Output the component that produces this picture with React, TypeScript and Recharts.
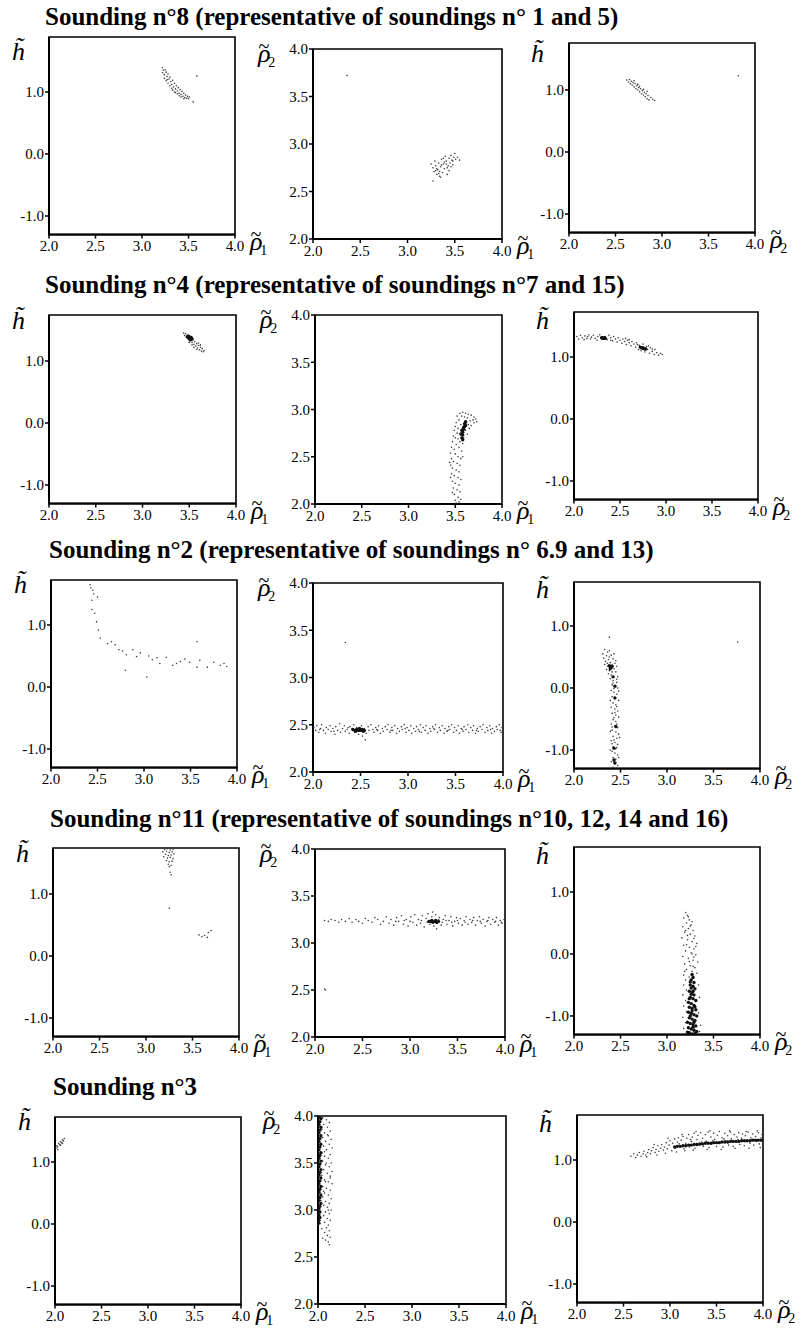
import { ReferenceArea, Scatter, ScatterChart, XAxis, YAxis } from "recharts";

type Pt = [number, number];

const rhoTicks = [2, 2.5, 3, 3.5, 4];
const hTicks = [-1, 0, 1];

const soundingTitles = [
  "Sounding n°8 (representative of soundings n° 1 and 5)",
  "Sounding n°4 (representative of soundings n°7 and 15)",
  "Sounding n°2 (representative of soundings n° 6.9 and 13)",
  "Sounding n°11 (representative of soundings n°10, 12, 14 and 16)",
  "Sounding n°3",
];

// ---- sounding 8 ----
const s8HRho1: Pt[] = [
  [3.22, 1.39], [3.23, 1.35], [3.22, 1.31], [3.24, 1.28], [3.25, 1.36], [3.26, 1.32], [3.24, 1.22], [3.27, 1.25],
  [3.28, 1.29], [3.26, 1.18], [3.29, 1.21], [3.30, 1.24], [3.28, 1.14], [3.31, 1.17], [3.32, 1.12], [3.33, 1.19],
  [3.30, 1.10], [3.34, 1.08], [3.35, 1.14], [3.36, 1.05], [3.33, 1.03], [3.37, 1.10], [3.38, 1.02], [3.39, 1.07],
  [3.36, 0.99], [3.40, 0.98], [3.41, 1.04], [3.42, 0.96], [3.43, 1.01], [3.40, 0.94], [3.44, 0.93], [3.45, 0.98],
  [3.46, 0.91], [3.47, 0.95], [3.48, 0.90], [3.49, 0.93], [3.50, 0.89], [3.51, 0.92], [3.45, 0.89], [3.38, 0.97],
  [3.32, 1.06], [3.27, 1.20], [3.35, 1.00], [3.42, 0.92], [3.59, 1.26], [3.55, 0.84],
];
const s8Rho2Rho1: Pt[] = [
  [3.25, 2.79], [3.27, 2.75], [3.28, 2.71], [3.29, 2.82], [3.30, 2.77], [3.31, 2.68], [3.27, 2.61], [3.32, 2.73],
  [3.33, 2.80], [3.34, 2.66], [3.35, 2.76], [3.36, 2.84], [3.34, 2.71], [3.37, 2.70], [3.38, 2.79], [3.39, 2.74],
  [3.40, 2.87], [3.41, 2.82], [3.42, 2.68], [3.43, 2.77], [3.44, 2.85], [3.45, 2.80], [3.46, 2.88], [3.47, 2.83],
  [3.48, 2.78], [3.49, 2.86], [3.50, 2.90], [3.51, 2.84], [3.53, 2.86], [3.55, 2.83], [3.36, 2.78], [3.39, 2.81],
  [3.42, 2.75], [3.44, 2.72], [3.31, 2.74], [3.33, 2.69], [3.46, 2.76], [3.38, 2.85], [3.30, 2.72], [3.41, 2.79],
  [3.35, 2.65], [3.48, 2.82], [2.36, 3.72],
];
const s8HRho2: Pt[] = [
  [2.62, 1.16], [2.64, 1.13], [2.65, 1.17], [2.66, 1.10], [2.67, 1.14], [2.68, 1.08], [2.69, 1.12], [2.70, 1.05],
  [2.71, 1.10], [2.72, 1.02], [2.73, 1.07], [2.74, 1.00], [2.75, 1.04], [2.76, 0.97], [2.77, 1.02], [2.78, 0.94],
  [2.79, 0.99], [2.80, 0.92], [2.81, 0.96], [2.82, 0.89], [2.83, 0.94], [2.84, 0.86], [2.85, 0.91], [2.86, 0.84],
  [2.88, 0.88], [2.90, 0.85], [2.92, 0.83], [2.70, 1.15], [2.74, 1.09], [2.80, 1.01], [2.84, 0.98], [2.76, 1.06],
  [3.82, 1.23],
];

// ---- sounding 4 ----
const s4HRho1: Pt[] = [
  [3.44, 1.45], [3.45, 1.41], [3.46, 1.44], [3.47, 1.38], [3.48, 1.42], [3.49, 1.35], [3.50, 1.40], [3.51, 1.33],
  [3.52, 1.37], [3.53, 1.30], [3.54, 1.34], [3.55, 1.27], [3.56, 1.31], [3.57, 1.24], [3.58, 1.28], [3.59, 1.21],
  [3.60, 1.25], [3.61, 1.18], [3.62, 1.22], [3.63, 1.16], [3.64, 1.20], [3.65, 1.15], [3.66, 1.17], [3.58, 1.19],
  [3.55, 1.22], [3.53, 1.26], [3.60, 1.29], [3.62, 1.26], [3.50, 1.30],
];
const s4HRho1Core: Pt[] = [
  [3.48, 1.39], [3.49, 1.38], [3.50, 1.37], [3.51, 1.36], [3.52, 1.35], [3.50, 1.39], [3.52, 1.38], [3.53, 1.36],
  [3.49, 1.40], [3.51, 1.34],
];
const s4Rho2Rho1: Pt[] = [
  [3.52, 2.93], [3.55, 2.96], [3.58, 2.97], [3.61, 2.96], [3.64, 2.95], [3.67, 2.94], [3.70, 2.92], [3.72, 2.90],
  [3.73, 2.87], [3.70, 2.86], [3.66, 2.88], [3.63, 2.91], [3.60, 2.92], [3.54, 2.89], [3.51, 2.86], [3.50, 2.82],
  [3.53, 2.80], [3.67, 2.83], [3.64, 2.84], [3.69, 2.89], [3.62, 2.86], [3.57, 2.93], [3.65, 2.80], [3.56, 2.84],
  [3.49, 2.78], [3.52, 2.75], [3.61, 2.78], [3.63, 2.74], [3.48, 2.72], [3.50, 2.70], [3.53, 2.69], [3.55, 2.66],
  [3.47, 2.66], [3.51, 2.63], [3.58, 2.64], [3.46, 2.60], [3.49, 2.58], [3.54, 2.60], [3.57, 2.56], [3.45, 2.54],
  [3.50, 2.53], [3.53, 2.50], [3.56, 2.48], [3.46, 2.48], [3.48, 2.45], [3.52, 2.43], [3.55, 2.41], [3.45, 2.41],
  [3.47, 2.38], [3.51, 2.36], [3.54, 2.34], [3.46, 2.32], [3.49, 2.30], [3.53, 2.28], [3.56, 2.26], [3.47, 2.24],
  [3.50, 2.22], [3.54, 2.20], [3.48, 2.17], [3.52, 2.15], [3.55, 2.13], [3.49, 2.10], [3.53, 2.07], [3.50, 2.04],
  [3.54, 2.02], [3.51, 2.01], [3.56, 2.05], [3.47, 2.12], [3.45, 2.28], [3.58, 2.50], [3.59, 2.70], [3.44, 2.44],
];
const s4Rho2Rho1Core: Pt[] = [
  [3.57, 2.70], [3.58, 2.73], [3.58, 2.76], [3.59, 2.79], [3.60, 2.82], [3.60, 2.85], [3.61, 2.87], [3.59, 2.81],
  [3.57, 2.78], [3.56, 2.74], [3.61, 2.83], [3.58, 2.68],
];
const s4HRho2: Pt[] = [
  [2.03, 1.33], [2.05, 1.29], [2.07, 1.35], [2.09, 1.31], [2.11, 1.28], [2.12, 1.34], [2.14, 1.30], [2.16, 1.36],
  [2.18, 1.29], [2.19, 1.32], [2.21, 1.35], [2.23, 1.30], [2.25, 1.27], [2.26, 1.33], [2.28, 1.36], [2.30, 1.29],
  [2.34, 1.33], [2.36, 1.28], [2.38, 1.35], [2.40, 1.31], [2.42, 1.26], [2.43, 1.33], [2.45, 1.29], [2.47, 1.24],
  [2.48, 1.31], [2.50, 1.27], [2.52, 1.22], [2.53, 1.29], [2.55, 1.25], [2.57, 1.20], [2.58, 1.27], [2.60, 1.23],
  [2.62, 1.18], [2.63, 1.25], [2.65, 1.21], [2.67, 1.16], [2.68, 1.23], [2.70, 1.12], [2.71, 1.19], [2.73, 1.10],
  [2.75, 1.21], [2.77, 1.08], [2.79, 1.17], [2.80, 1.12], [2.82, 1.06], [2.83, 1.15], [2.85, 1.09], [2.87, 1.04],
  [2.88, 1.12], [2.90, 1.07], [2.92, 1.03], [2.94, 1.06], [2.96, 1.04], [2.85, 1.13], [2.60, 1.28], [2.40, 1.27],
  [2.15, 1.33], [2.69, 1.20], [2.81, 1.18], [2.56, 1.30],
];
const s4HRho2Core: Pt[] = [
  [2.30, 1.31], [2.31, 1.31], [2.32, 1.30], [2.33, 1.31], [2.34, 1.30], [2.72, 1.16], [2.73, 1.15], [2.74, 1.15],
  [2.75, 1.14], [2.76, 1.14], [2.77, 1.13], [2.78, 1.13],
];

// ---- sounding 2 ----
const s2HRho1: Pt[] = [
  [2.42, 1.65], [2.45, 1.56], [2.44, 1.40], [2.50, 1.45], [2.44, 1.25], [2.47, 1.19], [2.49, 1.05], [2.51, 0.92],
  [2.53, 0.79], [2.65, 0.73], [2.69, 0.68], [2.73, 0.60], [2.81, 0.52], [2.80, 0.27], [2.88, 0.60], [2.92, 0.49],
  [3.03, 0.16], [3.05, 0.50], [3.14, 0.47], [3.17, 0.38], [3.24, 0.48], [3.31, 0.35], [3.39, 0.41], [3.49, 0.40],
  [3.57, 0.73], [3.57, 0.32], [3.60, 0.43], [3.68, 0.32], [3.75, 0.40], [3.82, 0.35], [3.89, 0.33], [2.43, 1.60],
  [2.46, 1.50], [2.61, 0.70], [2.77, 0.58], [2.96, 0.55], [3.09, 0.44], [3.35, 0.38], [3.44, 0.45], [3.86, 0.38],
];
const s2Rho2Rho1: Pt[] = [
  [2.01, 2.47], [2.03, 2.44], [2.04, 2.49], [2.06, 2.42], [2.08, 2.46], [2.09, 2.50], [2.11, 2.44], [2.13, 2.41],
  [2.14, 2.47], [2.16, 2.45], [2.18, 2.49], [2.19, 2.43], [2.21, 2.46], [2.23, 2.40], [2.24, 2.48], [2.26, 2.44],
  [2.28, 2.51], [2.29, 2.42], [2.31, 2.46], [2.33, 2.49], [2.34, 2.43], [2.36, 2.45], [2.38, 2.41], [2.39, 2.48],
  [2.41, 2.46], [2.43, 2.50], [2.44, 2.42], [2.46, 2.47], [2.48, 2.40], [2.49, 2.45], [2.51, 2.49], [2.53, 2.43],
  [2.54, 2.46], [2.56, 2.41], [2.58, 2.48], [2.59, 2.44], [2.61, 2.50], [2.63, 2.45], [2.64, 2.42], [2.66, 2.47],
  [2.68, 2.44], [2.69, 2.49], [2.71, 2.41], [2.73, 2.46], [2.74, 2.43], [2.76, 2.48], [2.78, 2.45], [2.79, 2.50],
  [2.81, 2.42], [2.83, 2.47], [2.84, 2.44], [2.86, 2.49], [2.88, 2.41], [2.89, 2.46], [2.91, 2.43], [2.93, 2.48],
  [2.94, 2.45], [2.96, 2.50], [2.98, 2.42], [2.99, 2.47], [3.01, 2.44], [3.03, 2.49], [3.04, 2.41], [3.06, 2.46],
  [3.08, 2.43], [3.09, 2.48], [3.11, 2.45], [3.13, 2.50], [3.14, 2.42], [3.16, 2.47], [3.18, 2.44], [3.19, 2.49],
  [3.21, 2.41], [3.23, 2.46], [3.24, 2.43], [3.26, 2.48], [3.28, 2.45], [3.29, 2.50], [3.31, 2.42], [3.33, 2.47],
  [3.34, 2.44], [3.36, 2.49], [3.38, 2.41], [3.39, 2.46], [3.41, 2.43], [3.43, 2.48], [3.44, 2.45], [3.46, 2.50],
  [3.48, 2.42], [3.49, 2.47], [3.51, 2.44], [3.53, 2.49], [3.54, 2.41], [3.56, 2.46], [3.58, 2.43], [3.59, 2.48],
  [3.61, 2.45], [3.63, 2.50], [3.64, 2.42], [3.66, 2.47], [3.68, 2.44], [3.69, 2.49], [3.71, 2.41], [3.73, 2.46],
  [3.74, 2.43], [3.76, 2.48], [3.78, 2.45], [3.79, 2.50], [3.81, 2.42], [3.83, 2.47], [3.84, 2.44], [3.86, 2.49],
  [3.88, 2.41], [3.89, 2.46], [3.91, 2.43], [3.93, 2.48], [3.94, 2.45], [3.96, 2.50], [3.98, 2.42], [3.99, 2.47],
  [2.07, 2.45], [2.22, 2.43], [2.37, 2.47], [2.52, 2.38], [2.55, 2.34], [2.67, 2.45], [2.82, 2.44], [2.97, 2.46],
  [3.12, 2.43], [3.27, 2.46], [3.42, 2.44], [3.57, 2.45], [3.72, 2.44], [3.87, 2.45], [3.97, 2.44], [2.34, 3.37],
];
const s2Rho2Rho1Core: Pt[] = [
  [2.42, 2.45], [2.44, 2.44], [2.46, 2.45], [2.48, 2.44], [2.50, 2.44], [2.52, 2.45], [2.54, 2.44], [2.45, 2.43],
  [2.49, 2.46], [2.53, 2.43],
];
const s2HRho2: Pt[] = [
  [2.33, 0.62], [2.36, 0.58], [2.31, 0.55], [2.35, 0.52], [2.38, 0.60], [2.32, 0.48], [2.37, 0.46], [2.40, 0.53],
  [2.34, 0.43], [2.39, 0.41], [2.42, 0.47], [2.33, 0.38], [2.36, 0.35], [2.41, 0.37], [2.44, 0.40], [2.35, 0.30],
  [2.38, 0.28], [2.43, 0.31], [2.46, 0.35], [2.37, 0.23], [2.40, 0.21], [2.45, 0.26], [2.47, 0.18], [2.39, 0.15],
  [2.42, 0.12], [2.46, 0.09], [2.41, 0.05], [2.44, 0.02], [2.47, 0.00], [2.40, -0.04], [2.43, -0.07], [2.46, -0.10],
  [2.41, -0.14], [2.44, -0.17], [2.48, -0.20], [2.42, -0.24], [2.45, -0.27], [2.40, -0.31], [2.44, -0.34], [2.47, -0.37],
  [2.41, -0.41], [2.45, -0.44], [2.48, -0.47], [2.42, -0.51], [2.45, -0.54], [2.40, -0.58], [2.44, -0.61], [2.47, -0.64],
  [2.41, -0.68], [2.45, -0.71], [2.48, -0.74], [2.42, -0.78], [2.46, -0.81], [2.40, -0.85], [2.44, -0.88], [2.47, -0.91],
  [2.42, -0.95], [2.45, -0.98], [2.41, -1.02], [2.44, -1.05], [2.47, -1.08], [2.42, -1.12], [2.45, -1.15], [2.40, -1.19],
  [2.44, -1.22], [2.47, -1.25], [2.42, -1.28], [2.43, 0.55], [2.45, 0.44], [2.38, 0.50], [2.41, 0.26], [2.36, 0.40],
  [2.46, 0.14], [2.43, -0.01], [2.39, -0.20], [2.46, -0.30], [2.43, -0.48], [2.39, -0.70], [2.46, -0.58], [2.43, -0.84],
  [2.39, -1.00], [2.46, -0.96], [2.43, -1.18], [2.46, -1.29], [2.41, -0.90], [2.48, -0.05], [2.44, -0.40], [2.42, 0.08],
  [2.49, -0.80], [2.48, -1.12], [2.41, -0.63], [2.38, 0.82], [3.76, 0.74],
];
const s2HRho2Core: Pt[] = [
  [2.38, 0.36], [2.39, 0.34], [2.40, 0.33], [2.41, 0.35], [2.39, 0.31], [2.44, -0.16], [2.45, -0.62], [2.43, -0.97],
  [2.43, -1.16], [2.44, -1.21], [2.42, 0.18], [2.44, 0.03],
];

// ---- sounding 11 ----
const s11HRho1: Pt[] = [
  [3.20, 1.72], [3.23, 1.73], [3.26, 1.71], [3.29, 1.72], [3.18, 1.68], [3.22, 1.69], [3.25, 1.67], [3.28, 1.68],
  [3.30, 1.65], [3.21, 1.64], [3.24, 1.62], [3.27, 1.63], [3.19, 1.60], [3.23, 1.58], [3.26, 1.59], [3.29, 1.57],
  [3.22, 1.54], [3.25, 1.52], [3.28, 1.53], [3.24, 1.48], [3.27, 1.46], [3.25, 1.44], [3.26, 1.35], [3.27, 1.31],
  [3.25, 0.77], [3.57, 0.34], [3.60, 0.31], [3.63, 0.33], [3.67, 0.38], [3.70, 0.41], [3.66, 0.30],
];
const s11Rho2Rho1: Pt[] = [
  [2.10, 3.24], [2.14, 3.23], [2.17, 3.25], [2.21, 3.24], [2.25, 3.22], [2.28, 3.25], [2.32, 3.23], [2.36, 3.26],
  [2.39, 3.22], [2.43, 3.25], [2.46, 3.23], [2.50, 3.21], [2.53, 3.26], [2.56, 3.24], [2.60, 3.22], [2.63, 3.27],
  [2.66, 3.25], [2.69, 3.20], [2.72, 3.23], [2.75, 3.28], [2.78, 3.21], [2.80, 3.25], [2.83, 3.19], [2.86, 3.27],
  [2.88, 3.23], [2.91, 3.29], [2.93, 3.20], [2.96, 3.25], [2.98, 3.18], [3.01, 3.28], [3.03, 3.22], [3.05, 3.30],
  [3.07, 3.19], [3.09, 3.25], [3.11, 3.21], [3.13, 3.29], [3.15, 3.17], [3.17, 3.26], [3.19, 3.31], [3.21, 3.20],
  [3.23, 3.28], [3.25, 3.18], [3.27, 3.30], [3.29, 3.21], [3.31, 3.27], [3.33, 3.19], [3.35, 3.25], [3.37, 3.29],
  [3.39, 3.20], [3.41, 3.24], [3.43, 3.28], [3.45, 3.18], [3.47, 3.23], [3.49, 3.27], [3.51, 3.21], [3.53, 3.26],
  [3.55, 3.19], [3.57, 3.24], [3.59, 3.28], [3.61, 3.20], [3.63, 3.25], [3.65, 3.22], [3.67, 3.27], [3.69, 3.19],
  [3.71, 3.24], [3.73, 3.28], [3.75, 3.21], [3.77, 3.25], [3.79, 3.18], [3.81, 3.23], [3.83, 3.27], [3.85, 3.20],
  [3.87, 3.25], [3.89, 3.22], [3.91, 3.27], [3.93, 3.19], [3.95, 3.24], [3.97, 3.21], [3.99, 3.25], [3.00, 3.23],
  [3.12, 3.24], [3.18, 3.22], [3.22, 3.24], [3.26, 3.23], [3.30, 3.25], [3.34, 3.22], [3.38, 3.24], [3.44, 3.22],
  [3.50, 3.24], [3.58, 3.22], [3.66, 3.24], [3.74, 3.23], [3.82, 3.24], [3.90, 3.23], [3.96, 3.22], [2.94, 3.24],
  [2.85, 3.23], [3.24, 3.33], [3.28, 3.15], [2.10, 2.51], [2.11, 2.50],
];
const s11Rho2Rho1Core: Pt[] = [
  [3.20, 3.23], [3.22, 3.23], [3.24, 3.22], [3.26, 3.23], [3.28, 3.22], [3.30, 3.23], [3.23, 3.24], [3.27, 3.24],
];
const s11HRho2: Pt[] = [
  [3.20, 0.67], [3.22, 0.62], [3.18, 0.58], [3.24, 0.55], [3.21, 0.50], [3.26, 0.47], [3.17, 0.44], [3.23, 0.41],
  [3.28, 0.38], [3.19, 0.35], [3.25, 0.32], [3.30, 0.29], [3.16, 0.26], [3.22, 0.23], [3.27, 0.20], [3.32, 0.17],
  [3.18, 0.14], [3.24, 0.11], [3.29, 0.08], [3.20, 0.05], [3.26, 0.02], [3.31, -0.01], [3.17, -0.04], [3.23, -0.07],
  [3.28, -0.10], [3.33, -0.13], [3.19, -0.16], [3.25, -0.19], [3.30, -0.22], [3.21, -0.25], [3.27, -0.28], [3.32, -0.31],
  [3.18, -0.34], [3.24, -0.37], [3.20, -0.42], [3.18, -0.50], [3.21, -0.58], [3.17, -0.66], [3.20, -0.75], [3.18, -0.84],
  [3.21, -0.93], [3.17, -1.02], [3.20, -1.11], [3.18, -1.20], [3.21, -1.27], [3.34, -0.50], [3.35, -0.70], [3.34, -0.95],
  [3.36, -1.15], [3.35, -1.25], [3.23, 0.60], [3.27, 0.52], [3.20, 0.38], [3.29, 0.25], [3.21, 0.15], [3.27, 0.00],
  [3.24, -0.12], [3.19, -0.28], [3.29, -0.05], [3.25, 0.45], [3.31, 0.12], [3.22, 0.30], [3.28, -0.20],
];
const s11HRho2Core: Pt[] = [
  [3.27, -0.33], [3.28, -0.38], [3.26, -0.42], [3.29, -0.46], [3.25, -0.50], [3.28, -0.52], [3.30, -0.56], [3.24, -0.60],
  [3.27, -0.62], [3.29, -0.66], [3.25, -0.70], [3.28, -0.72], [3.31, -0.75], [3.23, -0.78], [3.26, -0.80], [3.29, -0.83],
  [3.24, -0.86], [3.27, -0.88], [3.31, -0.90], [3.23, -0.94], [3.26, -0.96], [3.29, -0.98], [3.32, -1.00], [3.24, -1.03],
  [3.27, -1.05], [3.30, -1.07], [3.22, -1.10], [3.25, -1.12], [3.28, -1.14], [3.31, -1.16], [3.23, -1.19], [3.26, -1.21],
  [3.29, -1.23], [3.32, -1.25], [3.24, -1.27], [3.27, -1.29], [3.30, -1.28], [3.22, -1.26], [3.26, -0.65], [3.27, -0.92],
  [3.28, -1.18], [3.25, -0.45], [3.26, -0.55], [3.30, -0.85], [3.25, -1.00], [3.29, -1.10], [3.24, -0.72], [3.28, -0.60],
];

// ---- sounding 3 ----
const s3HRho1: Pt[] = [
  [2.01, 1.22], [2.02, 1.26], [2.03, 1.24], [2.04, 1.30], [2.05, 1.28], [2.06, 1.33], [2.07, 1.31], [2.08, 1.36],
  [2.09, 1.34], [2.10, 1.38], [2.03, 1.20], [2.06, 1.27], [2.08, 1.30],
];
const s3Rho2Rho1: Pt[] = [
  [2.05, 3.98], [2.09, 3.96], [2.12, 3.93], [2.06, 3.91], [2.10, 3.88], [2.04, 3.86], [2.13, 3.84], [2.07, 3.82],
  [2.11, 3.79], [2.05, 3.77], [2.14, 3.75], [2.08, 3.73], [2.12, 3.70], [2.06, 3.68], [2.15, 3.66], [2.09, 3.64],
  [2.04, 3.61], [2.13, 3.59], [2.07, 3.57], [2.11, 3.55], [2.05, 3.52], [2.14, 3.50], [2.08, 3.48], [2.12, 3.46],
  [2.06, 3.43], [2.15, 3.41], [2.10, 3.39], [2.04, 3.37], [2.13, 3.34], [2.07, 3.32], [2.11, 3.30], [2.15, 3.28],
  [2.05, 3.25], [2.09, 3.23], [2.13, 3.21], [2.07, 3.18], [2.11, 3.16], [2.05, 3.14], [2.14, 3.12], [2.08, 3.09],
  [2.12, 3.07], [2.06, 3.05], [2.10, 3.03], [2.14, 3.00], [2.08, 2.98], [2.12, 2.96], [2.06, 2.94], [2.10, 2.91],
  [2.13, 2.89], [2.07, 2.87], [2.11, 2.84], [2.09, 2.81], [2.12, 2.78], [2.07, 2.76], [2.10, 2.73], [2.13, 2.71],
  [2.08, 2.68], [2.11, 2.66], [2.12, 2.63], [2.03, 3.70], [2.03, 3.40], [2.03, 3.10], [2.04, 2.80], [2.05, 2.70],
  [2.09, 3.50], [2.10, 3.80], [2.08, 3.30], [2.11, 3.00], [2.07, 3.62], [2.13, 3.36], [2.06, 3.20],
];
const s3Rho2Rho1Core: Pt[] = [
  [2.01, 3.99], [2.03, 3.97], [2.02, 3.94], [2.01, 3.91], [2.03, 3.88], [2.02, 3.85], [2.01, 3.82], [2.03, 3.79],
  [2.02, 3.76], [2.01, 3.73], [2.03, 3.70], [2.02, 3.67], [2.01, 3.64], [2.03, 3.61], [2.02, 3.58], [2.01, 3.55],
  [2.03, 3.52], [2.02, 3.49], [2.01, 3.46], [2.03, 3.43], [2.02, 3.40], [2.01, 3.37], [2.03, 3.34], [2.02, 3.31],
  [2.01, 3.28], [2.03, 3.25], [2.02, 3.22], [2.01, 3.19], [2.03, 3.16], [2.02, 3.13], [2.01, 3.10], [2.03, 3.07],
  [2.02, 3.04], [2.01, 3.01], [2.02, 2.98], [2.01, 2.95], [2.02, 2.92], [2.01, 2.89], [2.01, 2.86],
];
const s3HRho2: Pt[] = [
  [2.58, 1.06], [2.61, 1.10], [2.63, 1.04], [2.65, 1.08], [2.67, 1.12], [2.69, 1.06], [2.71, 1.10], [2.72, 1.14],
  [2.74, 1.08], [2.76, 1.12], [2.77, 1.17], [2.79, 1.10], [2.80, 1.15], [2.82, 1.20], [2.84, 1.12], [2.85, 1.17],
  [2.87, 1.23], [2.88, 1.14], [2.90, 1.19], [2.91, 1.25], [2.93, 1.16], [2.94, 1.21], [2.96, 1.28], [2.97, 1.18],
  [2.99, 1.24], [3.00, 1.31], [3.02, 1.15], [3.03, 1.27], [3.05, 1.34], [3.06, 1.19], [3.08, 1.29], [3.09, 1.36],
  [3.11, 1.22], [3.12, 1.32], [3.14, 1.38], [3.15, 1.18], [3.17, 1.27], [3.18, 1.35], [3.20, 1.41], [3.21, 1.21],
  [3.23, 1.30], [3.24, 1.37], [3.26, 1.43], [3.27, 1.19], [3.29, 1.33], [3.30, 1.40], [3.32, 1.24], [3.33, 1.44],
  [3.35, 1.35], [3.36, 1.22], [3.38, 1.41], [3.39, 1.30], [3.41, 1.45], [3.42, 1.20], [3.44, 1.37], [3.45, 1.26],
  [3.47, 1.43], [3.48, 1.33], [3.50, 1.22], [3.51, 1.40], [3.53, 1.46], [3.54, 1.29], [3.56, 1.36], [3.57, 1.21],
  [3.59, 1.43], [3.60, 1.31], [3.62, 1.39], [3.63, 1.24], [3.65, 1.45], [3.66, 1.34], [3.68, 1.22], [3.69, 1.41],
  [3.71, 1.29], [3.72, 1.37], [3.74, 1.44], [3.75, 1.25], [3.77, 1.35], [3.78, 1.42], [3.80, 1.23], [3.81, 1.39],
  [3.83, 1.31], [3.84, 1.45], [3.86, 1.27], [3.87, 1.36], [3.89, 1.42], [3.90, 1.24], [3.92, 1.38], [3.93, 1.30],
  [3.95, 1.44], [3.96, 1.26], [3.98, 1.36], [3.99, 1.41], [2.75, 1.05], [2.86, 1.08], [2.95, 1.11], [3.07, 1.13],
  [3.16, 1.15], [3.25, 1.16], [3.40, 1.17], [3.55, 1.17], [3.70, 1.19], [3.85, 1.19], [3.97, 1.20], [3.10, 1.26],
  [3.22, 1.33], [3.34, 1.29], [3.46, 1.31], [3.58, 1.34], [3.73, 1.33], [3.88, 1.33], [2.83, 1.25], [2.98, 1.35],
  [3.13, 1.41], [3.28, 1.46], [3.43, 1.47], [3.64, 1.47], [3.82, 1.46], [3.94, 1.47],
];
const s3HRho2Core: Pt[] = [
  [3.05, 1.21], [3.08, 1.22], [3.11, 1.22], [3.14, 1.23], [3.17, 1.23], [3.20, 1.24], [3.23, 1.24], [3.26, 1.25],
  [3.29, 1.25], [3.32, 1.26], [3.35, 1.26], [3.38, 1.27], [3.41, 1.27], [3.44, 1.27], [3.47, 1.28], [3.50, 1.28],
  [3.53, 1.28], [3.56, 1.29], [3.59, 1.29], [3.62, 1.29], [3.65, 1.30], [3.68, 1.30], [3.71, 1.30], [3.74, 1.30],
  [3.77, 1.31], [3.80, 1.31], [3.83, 1.31], [3.86, 1.31], [3.89, 1.32], [3.92, 1.32], [3.95, 1.32], [3.98, 1.32],
];

// ---- layout ----
const SERIF = '"Liberation Serif", "DejaVu Serif", serif';
const H_UNIT = 62; // px per unit on the h axes

type Box = {
  left: number;
  right: number;
  top: number;
  bottom: number;
  yMin: number;
  yMax: number;
  yTicks: number[];
};

const hBox = (left: number, right: number, top: number, zero: number): Box => ({
  left,
  right,
  top,
  bottom: zero + 1.3 * H_UNIT,
  yMin: -1.3,
  yMax: (zero - top) / H_UNIT,
  yTicks: hTicks,
});
const rBox = (left: number, right: number, top: number, bottom: number): Box => ({
  left,
  right,
  top,
  bottom,
  yMin: 2,
  yMax: 4,
  yTicks: rhoTicks,
});

type Row = {
  title: string;
  titleX: number;
  titleY: number;
  boxes: [Box, Box, Box];
  clouds: [Pt[], Pt[], Pt[]];
  cores: [Pt[] | null, Pt[] | null, Pt[] | null];
};

const rows: Row[] = [
  {
    title: soundingTitles[0],
    titleX: 45,
    titleY: 25,
    boxes: [hBox(49, 235, 37, 154), rBox(313, 502, 49, 239), hBox(569, 755, 43, 152)],
    clouds: [s8HRho1, s8Rho2Rho1, s8HRho2],
    cores: [null, null, null],
  },
  {
    title: soundingTitles[1],
    titleX: 45,
    titleY: 293,
    boxes: [hBox(49, 236, 315, 423), rBox(315, 502, 315, 504), hBox(574, 758, 312, 419)],
    clouds: [s4HRho1, s4Rho2Rho1, s4HRho2],
    cores: [s4HRho1Core, s4Rho2Rho1Core, s4HRho2Core],
  },
  {
    title: soundingTitles[2],
    titleX: 49,
    titleY: 558,
    boxes: [hBox(51, 237, 580, 687), rBox(313, 503, 583, 772), hBox(574, 760, 582, 688)],
    clouds: [s2HRho1, s2Rho2Rho1, s2HRho2],
    cores: [null, s2Rho2Rho1Core, s2HRho2Core],
  },
  {
    title: soundingTitles[3],
    titleX: 50,
    titleY: 827,
    boxes: [hBox(53, 239, 848, 956), rBox(315, 505, 849, 1037), hBox(574, 760, 847, 954)],
    clouds: [s11HRho1, s11Rho2Rho1, s11HRho2],
    cores: [null, s11Rho2Rho1Core, s11HRho2Core],
  },
  {
    title: soundingTitles[4],
    titleX: 53,
    titleY: 1095,
    boxes: [hBox(55, 241, 1117, 1224), rBox(318, 506, 1116, 1304), hBox(577, 763, 1115, 1222)],
    clouds: [s3HRho1, s3Rho2Rho1, s3HRho2],
    cores: [null, s3Rho2Rho1Core, s3HRho2Core],
  },
];

const fmt = (v: number) => v.toFixed(1);
const tickStyle = { fill: "#000", fontSize: 15, fontFamily: SERIF };
const toRows = (pts: Pt[]) => pts.map(([x, y]) => ({ x, y }));

const speck = (p: any) => <circle cx={p.cx} cy={p.cy} r={0.8} fill="#3c3c3c" />;
const blot = (p: any) => <circle cx={p.cx} cy={p.cy} r={1.7} fill="#111" />;

const PAD_L = 44;
const PAD_T = 10;
const PAD_R = 14;
const PAD_B = 26;

function Panel({ box, cloud, core }: { box: Box; cloud: Pt[]; core: Pt[] | null }) {
  const w = box.right - box.left;
  const h = box.bottom - box.top;
  return (
    <div style={{ position: "absolute", left: box.left - PAD_L, top: box.top - PAD_T }}>
      <ScatterChart
        width={w + PAD_L + PAD_R}
        height={h + PAD_T + PAD_B}
        margin={{ top: PAD_T, right: PAD_R, bottom: 0, left: 0 }}
      >
        <XAxis
          type="number"
          dataKey="x"
          domain={[2, 4]}
          ticks={rhoTicks}
          interval={0}
          allowDataOverflow
          height={PAD_B}
          tickSize={4}
          tickMargin={2}
          tickFormatter={fmt}
          tick={tickStyle}
          axisLine={{ stroke: "#000", strokeWidth: 2 }}
          tickLine={{ stroke: "#000", strokeWidth: 1.5 }}
        />
        <YAxis
          type="number"
          dataKey="y"
          domain={[box.yMin, box.yMax]}
          ticks={box.yTicks}
          interval={0}
          allowDataOverflow
          width={PAD_L}
          tickSize={4}
          tickMargin={1}
          tickFormatter={fmt}
          tick={tickStyle}
          axisLine={{ stroke: "#000", strokeWidth: 2 }}
          tickLine={{ stroke: "#000", strokeWidth: 1.5 }}
        />
        <ReferenceArea
          x1={2}
          x2={4}
          y1={box.yMin}
          y2={box.yMax}
          fill="none"
          stroke="#000"
          strokeWidth={1.6}
          ifOverflow="visible"
        />
        <Scatter data={toRows(cloud)} shape={speck} isAnimationActive={false} />
        {core && <Scatter data={toRows(core)} shape={blot} isAnimationActive={false} />}
      </ScatterChart>
    </div>
  );
}

// h with a combining tilde
function HSym({ x, y }: { x: number; y: number }) {
  return (
    <text x={x} y={y} fontFamily={SERIF} fontSize={26} fontStyle="italic" fill="#000">
      {"h\u0303"}
    </text>
  );
}

// rho with a tilde over it and a subscript index
function RhoSym({ x, y, sub }: { x: number; y: number; sub: string }) {
  return (
    <text x={x} y={y} fontFamily={SERIF} fill="#000">
      <tspan fontSize={26} fontStyle="italic">
        ρ
      </tspan>
      <tspan fontSize={20} dx={-12} dy={-9}>
        ~
      </tspan>
      <tspan fontSize={14} dx={-1} dy={14}>
        {sub}
      </tspan>
    </text>
  );
}

export default function App() {
  return (
    <div style={{ position: "absolute", left: 0, top: 0, width: 802, height: 1331, background: "#fff" }}>
      {rows.map((row, i) =>
        row.boxes.map((box, j) => (
          <Panel key={`${i}-${j}`} box={box} cloud={row.clouds[j]} core={row.cores[j]} />
        ))
      )}
      <svg
        width={802}
        height={1331}
        style={{ position: "absolute", left: 0, top: 0, pointerEvents: "none" }}
      >
        {rows.map((row, i) => {
          const [b1, b2, b3] = row.boxes;
          const one1 = b1.top + (b1.yMax - 1) * H_UNIT;
          const one3 = b3.top + (b3.yMax - 1) * H_UNIT;
          return (
            <g key={i}>
              <text x={row.titleX} y={row.titleY} fontFamily={SERIF} fontWeight="bold" fontSize={25} fill="#000">
                {row.title}
              </text>
              <HSym x={b1.left - 37} y={one1 - 32} />
              <RhoSym x={b1.right + 15} y={b1.bottom + 15} sub="1" />
              <RhoSym x={b2.left - 55} y={b2.top + 13} sub="2" />
              <RhoSym x={b2.right + 15} y={b2.bottom + 15} sub="1" />
              <HSym x={b3.left - 38} y={one3 - 28} />
              <RhoSym x={b3.right + 15} y={b3.bottom + 15} sub="2" />
            </g>
          );
        })}
      </svg>
    </div>
  );
}
